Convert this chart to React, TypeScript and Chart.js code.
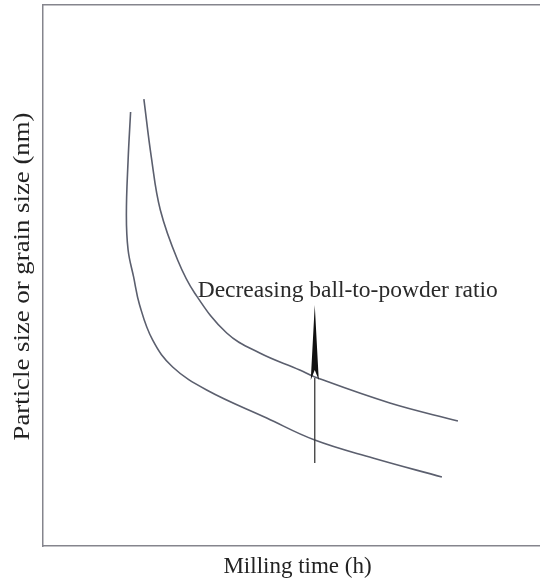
import React, { useEffect, useRef } from "react";
import { Chart, registerables } from "chart.js";

Chart.register(...registerables);

// Curve with the higher ball-to-powder ratio (lower curve)
const lowerX = [17.21, 16.72, 16.38, 16.72, 17.8, 18.98, 21.53, 25.47, 32.15, 43.95, 53.39, 64.8, 78.37];
const lowerY = [80.22, 71.35, 61.18, 54.71, 49.73, 44.55, 38.08, 33.09, 28.84, 23.66, 19.59, 16.27, 12.75];

// Curve with the lower ball-to-powder ratio (upper curve)
const upperX = [19.82, 21.28, 23.05, 26.45, 29.79, 36.09, 42.58, 50.44, 53.39, 68.14, 81.52];
const upperY = [82.62, 71.9, 62.11, 52.87, 46.77, 39.37, 35.67, 32.53, 31.24, 26.43, 23.1];

// Arrow annotation (data units)
const arrowX = 53.39;
const arrowFromY = 15.34;
const arrowToY = 44.55;
const arrowHeadBaseY = 31.05;

const noteText = "Decreasing ball-to-powder ratio";
const noteX = 30.39;
const noteY = 46.08;

const xTitle = "Milling time (h)";
const yTitle = "Particle size or grain size (nm)";

const SERIF = "'Liberation Serif', 'Times New Roman', serif";

const annotationPlugin = {
  id: "arrowNote",
  afterDatasetsDraw(chart: any) {
    const { ctx, scales, chartArea } = chart;
    const xs = scales.x;
    const ys = scales.y;
    const ax = xs.getPixelForValue(arrowX);
    const y0 = ys.getPixelForValue(arrowFromY);
    const y1 = ys.getPixelForValue(arrowToY);
    const yb = ys.getPixelForValue(arrowHeadBaseY);
    ctx.save();
    ctx.strokeStyle = "#3a3a3a";
    ctx.lineWidth = 1.3;
    ctx.beginPath();
    ctx.moveTo(ax, y0);
    ctx.lineTo(ax, yb);
    ctx.stroke();
    ctx.fillStyle = "#111111";
    ctx.beginPath();
    ctx.moveTo(ax, y1);
    ctx.lineTo(ax + 4, yb + 2);
    ctx.lineTo(ax, yb - 8);
    ctx.lineTo(ax - 4, yb + 2);
    ctx.closePath();
    ctx.fill();
    ctx.fillStyle = "#2a2a2a";
    ctx.font = `23.5px ${SERIF}`;
    ctx.textAlign = "left";
    ctx.textBaseline = "alphabetic";
    ctx.fillText(noteText, xs.getPixelForValue(noteX), ys.getPixelForValue(noteY));

    // vertical axis title (slightly stretched along its length, as in the source figure)
    const cy = (chartArea.top + chartArea.bottom) / 2 + 1;
    ctx.translate(23, cy);
    ctx.rotate(-Math.PI / 2);
    ctx.scale(1.14, 1);
    ctx.fillStyle = "#222222";
    ctx.font = `23.5px ${SERIF}`;
    ctx.textAlign = "center";
    ctx.textBaseline = "middle";
    ctx.fillText(yTitle, 0, 0);
    ctx.restore();
  },
};

export default function App() {
  const ref = useRef<HTMLCanvasElement | null>(null);
  useEffect(() => {
    document.body.style.margin = "0";
    const canvas = ref.current;
    if (!canvas) return;
    const lineColor = "#5b5f6e";
    const borderColor = "#85858d";
    const chart = new Chart(canvas, {
      type: "line",
      data: {
        datasets: [
          {
            data: lowerX.map((x, i) => ({ x, y: lowerY[i] })),
            borderColor: lineColor,
            borderWidth: 1.6,
            pointRadius: 0,
            tension: 0.4,
            fill: false,
          },
          {
            data: upperX.map((x, i) => ({ x, y: upperY[i] })),
            borderColor: lineColor,
            borderWidth: 1.6,
            pointRadius: 0,
            tension: 0.4,
            fill: false,
          },
        ],
      },
      options: {
        responsive: false,
        animation: false,
        layout: { padding: 0 },
        plugins: { legend: { display: false }, tooltip: { enabled: false } },
        scales: {
          x: {
            type: "linear",
            position: "bottom",
            min: 0,
            max: 100,
            grid: { display: false, drawTicks: false },
            ticks: { display: false },
            border: { display: true, color: borderColor, width: 1.5 },
            title: {
              display: true,
              text: xTitle,
              color: "#222222",
              font: { family: SERIF, size: 23 },
              padding: { top: 0, bottom: 5 },
            },
            afterFit: (s: any) => {
              s.height = 40;
            },
          },
          x2: {
            type: "linear",
            position: "top",
            min: 0,
            max: 100,
            grid: { display: false, drawTicks: false },
            ticks: { display: false },
            border: { display: true, color: borderColor, width: 1.5 },
            afterFit: (s: any) => {
              s.height = 5;
            },
          },
          y: {
            type: "linear",
            position: "left",
            min: 0,
            max: 100,
            grid: { display: false, drawTicks: false },
            ticks: { display: false },
            border: { display: true, color: borderColor, width: 1.5 },
            title: { display: false },
            afterFit: (s: any) => {
              s.width = 43;
            },
          },
        },
      },
      plugins: [annotationPlugin],
    });
    return () => chart.destroy();
  }, []);
  return (
    <div style={{ width: 540, height: 586, overflow: "hidden" }}>
      <canvas ref={ref} width={552} height={586} style={{ width: 552, height: 586, display: "block" }} />
    </div>
  );
}
